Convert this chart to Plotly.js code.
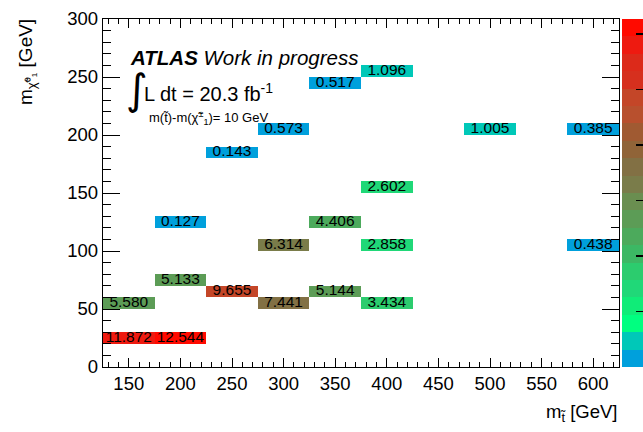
<!DOCTYPE html>
<html>
<head>
<meta charset="utf-8">
<script src="https://cdn.plot.ly/plotly-3.0.1.min.js"></script>
<style>html,body{margin:0;padding:0;background:#fff;}#chart{width:643px;height:432px;}</style>
</head>
<body>
<div id="chart"></div>
<script>
// Signal grid points: stop mass, neutralino mass, and the value shown in each cell
const mStop = [150, 200, 150, 200, 250, 300, 350, 400, 300, 400, 600, 200, 350, 400, 250, 300, 500, 600, 350, 400];
const mLSP  = [25, 25, 55, 75, 65, 55, 65, 55, 105, 105, 105, 125, 125, 155, 185, 205, 205, 205, 245, 255];
const sig   = [11.872, 12.544, 5.580, 5.133, 9.655, 7.441, 5.144, 3.434, 6.314, 2.858, 0.438, 0.127, 4.406, 2.602, 0.143, 0.573, 1.005, 0.385, 0.517, 1.096];

// Histogram binning (bin centres)
const xCentres = [150, 200, 250, 300, 350, 400, 450, 500, 550, 600];
const yCentres = [];
for (let v = 5; v < 300; v += 10) yCentres.push(v);

// 20-level palette, low to high
const palette = ['#00a0dc', '#00c8b8', '#00ff80', '#10ec78', '#20d878', '#2ccc6e', '#3cb864', '#4caa5c',
  '#5c9c56', '#6a8e50', '#7a7c4a', '#827044', '#906438', '#a05a32', '#b8502e', '#c44628',
  '#d6301e', '#dc2a1a', '#ee1a10', '#ff0a00'];

const nLev = palette.length;
const colorscale = [];
palette.forEach((c, i) => { colorscale.push([i / nLev, c]); colorscale.push([(i + 1) / nLev, c]); });

const z = yCentres.map(() => xCentres.map(() => null));
mStop.forEach((m, i) => {
  const ix = xCentres.indexOf(m);
  const iy = yCentres.indexOf(mLSP[i]);
  z[iy][ix] = sig[i];
});
const zMax = Math.max(...sig);

const L = 103, R = 24, T = 19, B = 65, W = 643, H = 432;
const pw = W - L - R, ph = H - T - B;
const px = v => (v - L) / pw;
const py = v => (H - B - v) / ph;

const font = 'Liberation Sans, Arial, Helvetica, sans-serif';

const heat = {
  type: 'heatmap', x: xCentres, y: yCentres, z: z,
  zmin: 0, zmax: zMax, colorscale: colorscale, hoverongaps: false,
  colorbar: {
    x: px(622), xanchor: 'left', xref: 'paper', xpad: 0, ypad: 0,
    y: 0.5, yanchor: 'middle', len: 1, lenmode: 'fraction',
    thickness: 22, outlinewidth: 0,
    tickmode: 'array', tickvals: [0, 2, 4, 6, 8, 10, 12],
    ticks: 'inside', ticklen: 8, tickcolor: '#000', tickwidth: 1.5,
    showticklabels: false
  }
};

const labels = {
  type: 'scatter', mode: 'text', x: mStop, y: mLSP,
  text: sig.map(v => v.toFixed(3)),
  textposition: 'middle center',
  textfont: { family: font, size: 15.5, color: '#000' },
  hoverinfo: 'skip', showlegend: false
};

const axisCommon = {
  showline: true, linecolor: '#000', linewidth: 1.2, mirror: 'ticks',
  ticks: 'inside', tickcolor: '#000', tickwidth: 1,
  showgrid: false, zeroline: false,
  tickfont: { family: font, size: 18.5, color: '#000' }
};

const layout = {
  width: W, height: H,
  margin: { l: L, r: R, t: T, b: B, autoexpand: false },
  paper_bgcolor: '#fff', plot_bgcolor: '#fff',
  showlegend: false,
  xaxis: Object.assign({}, axisCommon, {
    range: [125, 625], tick0: 0, dtick: 50, ticklen: 9,
    minor: { dtick: 10, tick0: 0, ticks: 'inside', ticklen: 5, tickcolor: '#000', tickwidth: 1 }
  }),
  yaxis: Object.assign({}, axisCommon, {
    range: [0, 300], tick0: 0, dtick: 50, ticklen: 17,
    minor: { dtick: 10, tick0: 0, ticks: 'inside', ticklen: 8, tickcolor: '#000', tickwidth: 1 }
  }),
  annotations: [
    { xref: 'paper', yref: 'paper', x: px(619), y: py(413), xanchor: 'right', yanchor: 'middle',
      text: 'm<sub>t̃</sub> [GeV]', showarrow: false, font: { family: font, size: 18.5, color: '#000' } },
    { xref: 'paper', yref: 'paper', x: px(13), y: py(17), xanchor: 'left', yanchor: 'top', textangle: -90,
      text: 'm<sub>χ̃⁰₁</sub> [GeV]', showarrow: false, font: { family: font, size: 19, color: '#000' } },
    { xref: 'paper', yref: 'paper', x: px(128), y: py(57), xanchor: 'left', yanchor: 'middle',
      text: '<b><i>ATLAS</i></b><i> Work in progress</i>', showarrow: false,
      font: { family: font, size: 20.5, color: '#000' } },
    { xref: 'paper', yref: 'paper', x: px(124), y: py(90), xanchor: 'left', yanchor: 'middle',
      text: '∫', showarrow: false, font: { family: 'DejaVu Sans, sans-serif', size: 42, color: '#000' } },
    { xref: 'paper', yref: 'paper', x: px(142), y: py(92), xanchor: 'left', yanchor: 'middle',
      text: 'L dt = 20.3 fb<sup>-1</sup>', showarrow: false, font: { family: font, size: 20, color: '#000' } },
    { xref: 'paper', yref: 'paper', x: px(147), y: py(118), xanchor: 'left', yanchor: 'middle',
      text: 'm(t̃)-m(χ̃<sup>±</sup><sub>1</sub>)= 10 GeV', showarrow: false,
      font: { family: font, size: 13, color: '#000' } }
  ]
};

Plotly.newPlot('chart', [heat, labels], layout, { staticPlot: true, displayModeBar: false });
</script>
</body>
</html>
